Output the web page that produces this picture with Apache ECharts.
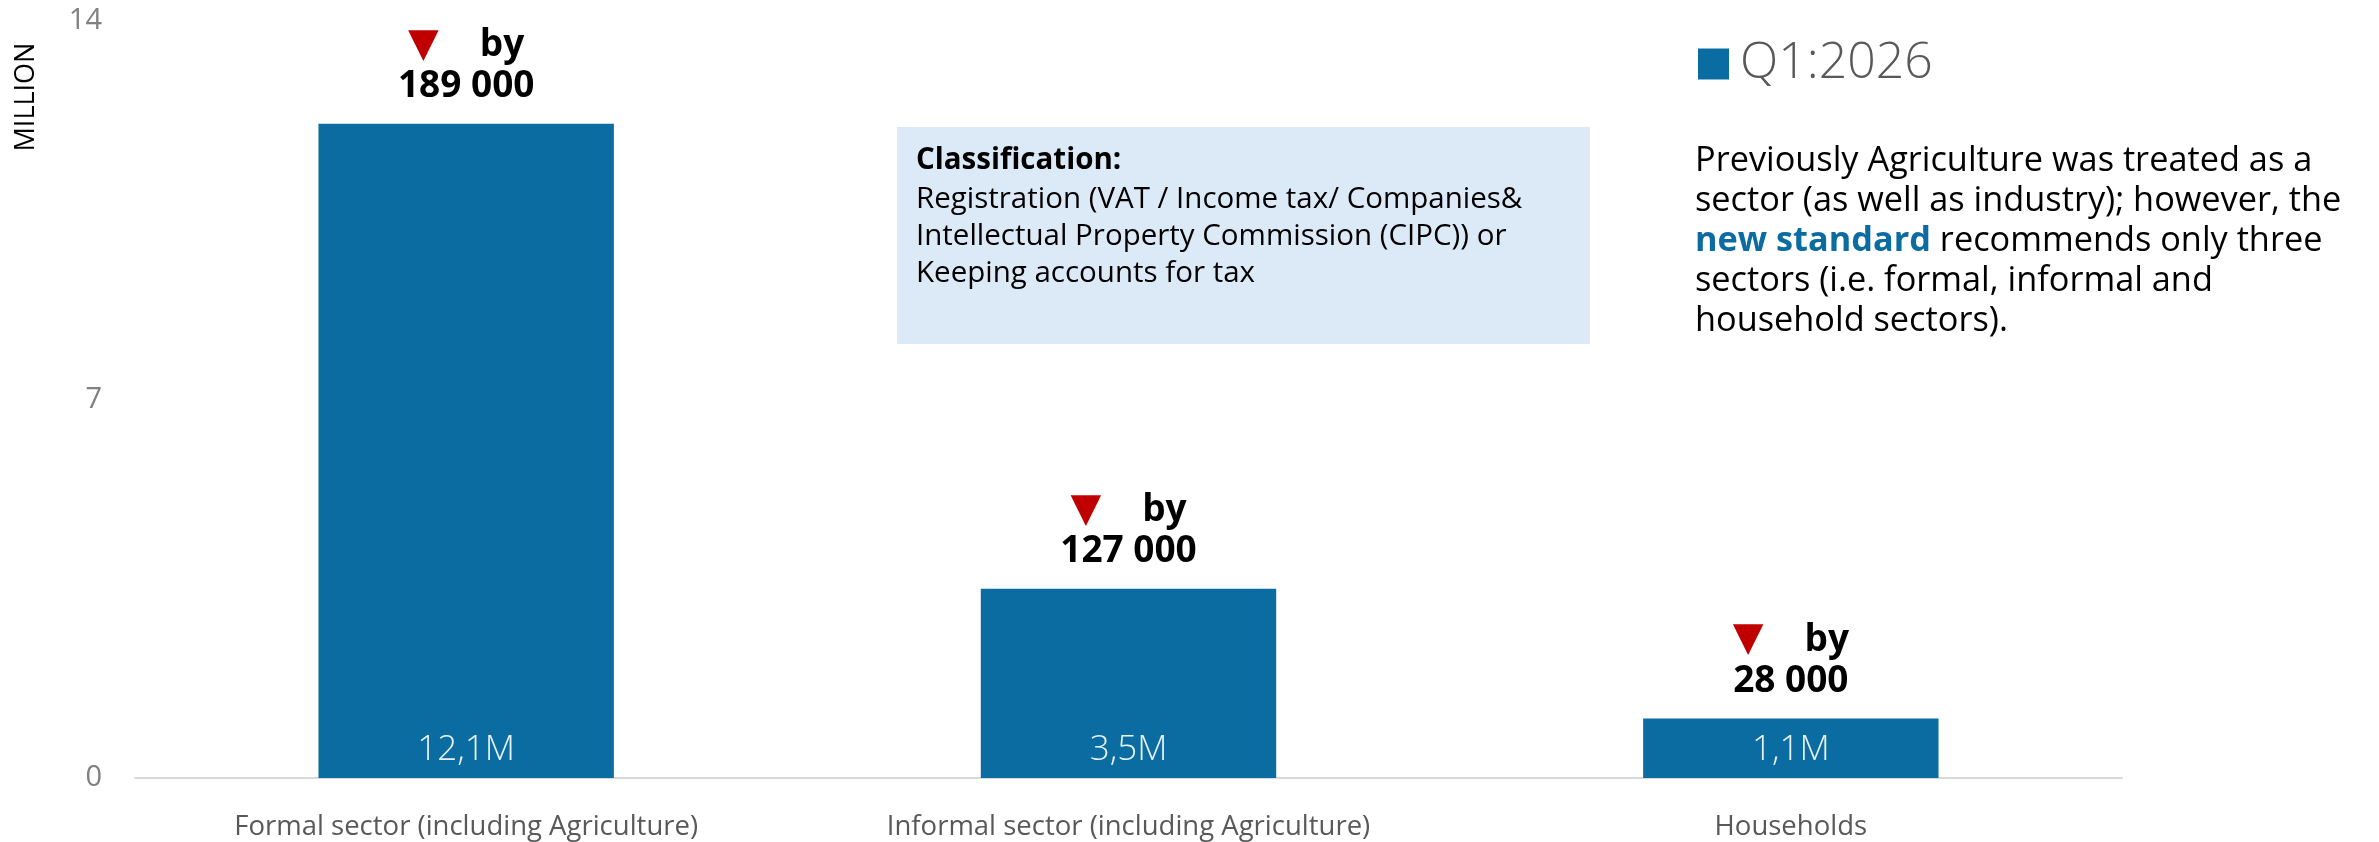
<!DOCTYPE html>
<html>
<head>
<meta charset="utf-8">
<script src="https://cdn.jsdelivr.net/npm/echarts@6/dist/echarts.min.js"></script>
<style>
  html, body { margin: 0; padding: 0; background: #fff; }
  #chart { width: 2379px; height: 842px; }
</style>
</head>
<body>
<div id="chart"></div>
<script>
var categories = ["Formal sector (including Agriculture)", "Informal sector (including Agriculture)", "Households"];
var values = [12.1, 3.5, 1.1];
var valueLabels = ["12,1M", "3,5M", "1,1M"];
var decreases = ["189 000", "127 000", "28 000"];
var yTicks = [0, 7, 14];

var FONT = "'Open Sans', 'Noto Sans', sans-serif";
var BLUE = "#0b6ca1";

var chart = echarts.init(document.getElementById("chart"));

var option = {
  animation: false,
  textStyle: { fontFamily: FONT },
  grid: { left: 135, right: 257, top: 21, bottom: 64 },
  legend: {
    data: ["Q1:2026"],
    left: 1693,
    top: 34,
    icon: "rect",
    itemWidth: 31,
    itemHeight: 31,
    textStyle: { fontSize: 50, color: "#595959", fontFamily: FONT, fontWeight: 300, padding: [0, 0, 0, 6] }
  },
  xAxis: {
    type: "category",
    data: categories,
    axisLine: { show: true, lineStyle: { color: "#d9d9d9", width: 2 } },
    axisTick: { show: false },
    axisLabel: { color: "#595959", fontSize: 27.5, margin: 35, fontFamily: FONT }
  },
  yAxis: {
    type: "value",
    min: yTicks[0],
    max: yTicks[yTicks.length - 1],
    interval: 7,
    axisLine: { show: false },
    axisTick: { show: false },
    splitLine: { show: false },
    axisLabel: { color: "#808080", fontSize: 29, margin: 33, fontFamily: FONT }
  },
  series: [
    {
      name: "Q1:2026",
      type: "bar",
      barWidth: "44.6%",
      itemStyle: { color: BLUE },
      data: values,
      label: {
        show: true,
        position: "insideBottom",
        distance: 10,
        color: "#e9f2fa",
        fontSize: 35,
        fontWeight: 300,
        fontFamily: FONT,
        formatter: function (p) { return valueLabels[p.dataIndex]; }
      }
    },
    {
      name: "change",
      type: "bar",
      barWidth: "44.6%",
      barGap: "-100%",
      silent: true,
      itemStyle: { color: "rgba(0,0,0,0)" },
      data: values,
      label: {
        show: true,
        position: "top",
        distance: 17,
        align: "center",
        formatter: function (p) {
          return "{tri|\u25BC}{by|by}\n{num|" + decreases[p.dataIndex] + "}";
        },
        rich: {
          tri: { color: "#c00000", fontSize: 40, fontFamily: "DejaVu Sans", lineHeight: 41 },
          by: { color: "#000", fontSize: 37, fontWeight: "bold", fontFamily: FONT, padding: [0, 0, 0, 41], lineHeight: 41 },
          num: { color: "#000", fontSize: 37, fontWeight: "bold", fontFamily: FONT, lineHeight: 41 }
        }
      }
    }
  ],
  graphic: [
    {
      type: "text",
      x: 26,
      y: 97,
      rotation: Math.PI / 2,
      style: {
        text: "MILLION",
        fill: "#000",
        font: "27px " + FONT,
        align: "center",
        verticalAlign: "middle"
      }
    },
    {
      type: "rect",
      shape: { x: 897, y: 127, width: 693, height: 217 },
      style: { fill: "#dce9f6" }
    },
    {
      type: "text",
      x: 916,
      y: 140,
      style: {
        text: "{h|Classification:}\nRegistration (VAT / Income tax/ Companies&\nIntellectual Property Commission (CIPC)) or\nKeeping accounts for tax",
        fill: "#000",
        fontFamily: FONT,
        fontSize: 29.5,
        lineHeight: 37,
        rich: {
          h: { fontWeight: "bold", fontSize: 29.5, fontFamily: FONT, lineHeight: 41, fill: "#000" }
        }
      }
    },
    {
      type: "text",
      x: 1695,
      y: 141,
      style: {
        text: "Previously Agriculture was treated as a\nsector (as well as industry); however, the\n{b|new standard} recommends only three\nsectors (i.e. formal, informal and\nhousehold sectors).",
        fill: "#000",
        fontFamily: FONT,
        fontSize: 34.3,
        lineHeight: 40,
        rich: {
          b: { fontWeight: "bold", fill: BLUE, fontSize: 34.3, fontFamily: FONT, lineHeight: 40 }
        }
      }
    }
  ]
};

chart.setOption(option);
</script>
</body>
</html>
